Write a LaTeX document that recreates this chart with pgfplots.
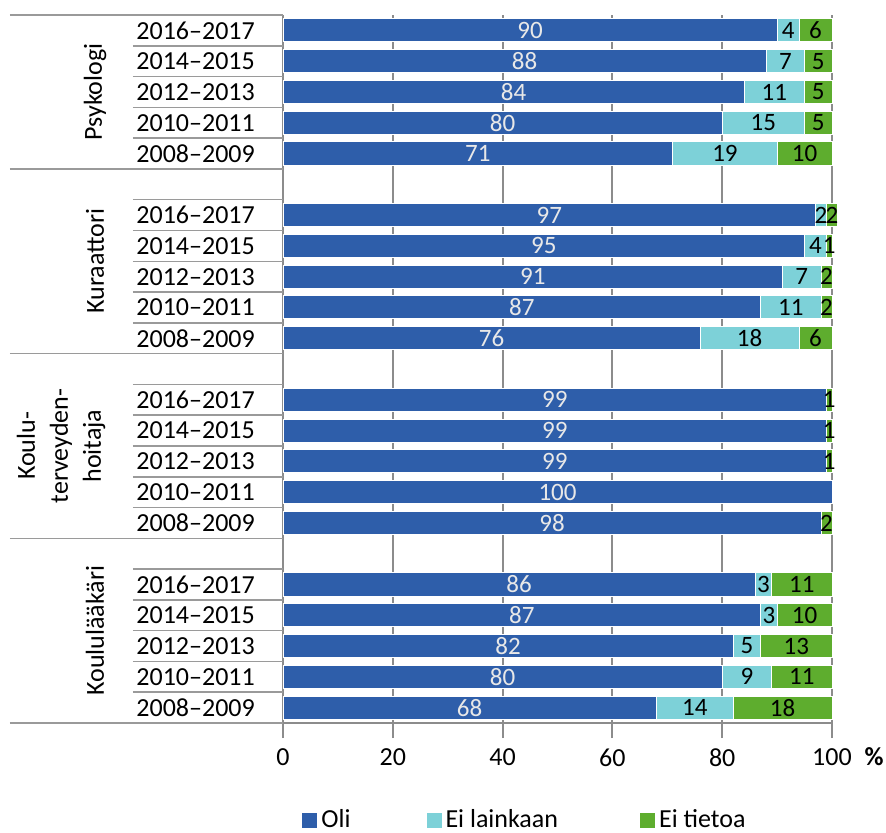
\documentclass[border=0pt]{standalone}
\usepackage{pgfplots}
\pgfplotsset{compat=1.18}
\usepackage{pgfplotstable}
\usepackage{fontspec}
\setmainfont{Carlito}
\definecolor{cOli}{HTML}{2E5EAA}
\definecolor{cEi}{HTML}{7DD1D8}
\definecolor{cEt}{HTML}{5EAD2E}
\definecolor{cGrid}{HTML}{8C8C8C}
\definecolor{cLine}{HTML}{9A9A9A}
\definecolor{cLbl}{HTML}{E8E8E8}

\pgfplotstableread{
y oli ei et
23 90 4 6
22 88 7 5
21 84 11 5
20 80 15 5
19 71 19 10
17 97 2 2
16 95 4 1
15 91 7 2
14 87 11 2
13 76 18 6
11 99 0 1
10 99 0 1
9 99 0 1
8 100 0 0
7 98 0 2
5 86 3 11
4 87 3 10
3 82 5 13
2 80 9 11
1 68 14 18
}\data

\newcommand{\fs}{\fontsize{13}{15}\selectfont}
\pgfplotsset{base/.style={scale only axis, width=274.5pt, height=354pt,
  xmin=0, xmax=100, ymin=0.5, ymax=23.5}}

\begin{document}
\begin{tikzpicture}
\begin{axis}[base, xbar stacked, bar width=0.75, clip=false,
  axis x line*=bottom, axis y line*=left,
  axis line style={cGrid, line width=1pt},
  xtick={0,20,40,60,80,100},
  xmajorgrids, grid style={cGrid, line width=1pt},
  tick align=outside, major tick length=7.5pt,
  tick style={cGrid, line width=1pt},
  ytick={1,2,3,4,5,7,8,9,10,11,13,14,15,16,17,19,20,21,22,23},
  yticklabels={2008--2009,2010--2011,2012--2013,2014--2015,2016--2017,
               2008--2009,2010--2011,2012--2013,2014--2015,2016--2017,
               2008--2009,2010--2011,2012--2013,2014--2015,2016--2017,
               2008--2009,2010--2011,2012--2013,2014--2015,2016--2017},
  y tick style={draw=none},
  yticklabel style={anchor=west, inner sep=0pt, xshift=-66pt},
  xticklabel style={yshift=-2pt},
  ticklabel style={font=\fs},
  /pgf/number format/assume math mode=true,
  legend columns=3,
  legend style={at={(axis description cs:0.0346,-0.1375)}, anchor=west,
    draw=none, inner sep=0pt, font=\fs,
    /tikz/column 2/.style={column sep=36pt},
    /tikz/column 4/.style={column sep=39pt}},
  legend image code/.code={\fill[#1, draw=none] (0pt,-3.75pt) rectangle (7.5pt,3.75pt);},
]
\addplot[fill=cOli, draw=white, line width=0.5pt] table[x=oli, y=y]{\data};
\addplot[fill=cEi, draw=white, line width=0.5pt] table[x=ei, y=y]{\data};
\addplot[fill=cEt, draw=white, line width=0.5pt] table[x=et, y=y]{\data};
\legend{Oli, Ei lainkaan, Ei tietoa}

% table lines on the left
\pgfplotsinvokeforeach{23.5,18.5,12.5,6.5,0.5}{
  \draw[cLine, line width=0.75pt] ([xshift=-136.5pt]axis cs:0,#1) -- (axis cs:0,#1);
}
\pgfplotsinvokeforeach{19.5,20.5,21.5,22.5,13.5,14.5,15.5,16.5,17.5,7.5,8.5,9.5,10.5,11.5,1.5,2.5,3.5,4.5,5.5}{
  \draw[cLine, line width=0.75pt] ([xshift=-75pt]axis cs:0,#1) -- (axis cs:0,#1);
}
\node[rotate=90, font=\fs] at ([xshift=-94pt]axis cs:0,21) {Psykologi};
\node[rotate=90, font=\fs] at ([xshift=-94pt]axis cs:0,15.5) {Kuraattori};
\node[rotate=90, font=\fontsize{13}{16.5}\selectfont, align=center] at ([xshift=-111pt]axis cs:0,9.5) {Koulu-\\terveyden-\\hoitaja};
\node[rotate=90, font=\fs] at ([xshift=-94pt]axis cs:0,3.5) {Koululääkäri};
\node[font=\bfseries\fs] at ([xshift=21pt, yshift=-17pt]rel axis cs:1,0) {\%};
\end{axis}

\begin{axis}[base, hide axis, clip=false,
  point meta=explicit,
  /pgf/number format/assume math mode=true,
  nodes near coords={\pgfmathfloatifflags{\pgfplotspointmeta}{0}{}{\pgfmathprintnumber{\pgfplotspointmeta}}},
  nodes near coords align=center,
  every node near coord/.append style={font=\fontsize{12.5}{14}\selectfont, inner sep=0pt, anchor=center},
]
\addplot[only marks, mark=none, every node near coord/.append style={text=cLbl}]
  table[x expr=\thisrow{oli}/2, y=y, meta=oli]{\data};
\addplot[only marks, mark=none, every node near coord/.append style={text=black}]
  table[x expr=\thisrow{oli}+\thisrow{ei}/2, y=y, meta=ei]{\data};
\addplot[only marks, mark=none, every node near coord/.append style={text=black}]
  table[x expr=\thisrow{oli}+\thisrow{ei}+\thisrow{et}/2, y=y, meta=et]{\data};
\end{axis}
\pgfresetboundingbox
\useasboundingbox (-141.5pt,-54.5pt) rectangle (301.5pt,361.5pt);
\end{tikzpicture}
\end{document}
